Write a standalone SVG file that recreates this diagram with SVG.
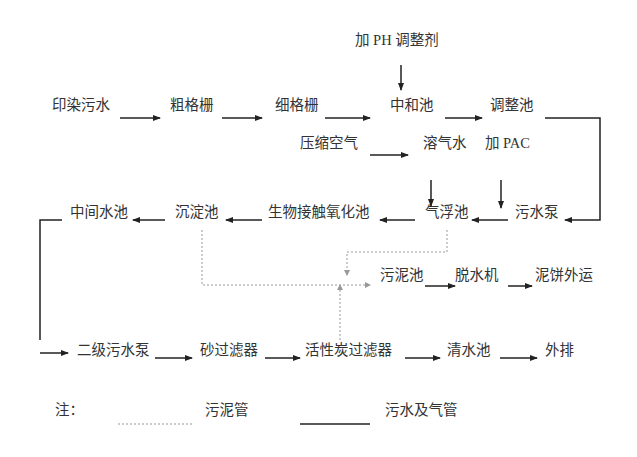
<svg xmlns="http://www.w3.org/2000/svg" width="637" height="457" viewBox="0 0 637 457">
<style>
text{font-family:"Liberation Serif","Noto Sans CJK SC",serif;font-size:14.5px;fill:#333}
.s{stroke:#222;stroke-width:1.5;fill:none}
.d{stroke:#999;stroke-width:1;stroke-dasharray:2,2;fill:none}
</style>
<defs>
<marker id="a" markerWidth="8" markerHeight="6" refX="7" refY="3" orient="auto" markerUnits="userSpaceOnUse"><path d="M0,0L8,3L0,6z" fill="#222"/></marker>
<marker id="g" markerWidth="6" markerHeight="6" refX="5" refY="3" orient="auto" markerUnits="userSpaceOnUse"><path d="M0,0L6,3L0,6z" fill="#999"/></marker>
</defs>
<rect width="637" height="457" fill="#fff"/>
<g id="n1"><text x="52" y="110">印染污水</text></g>
<g id="n2"><text x="170" y="110">粗格栅</text></g>
<g id="n3"><text x="275" y="110">细格栅</text></g>
<g id="n4"><text x="390" y="110">中和池</text></g>
<g id="n5"><text x="490" y="110">调整池</text></g>
<g id="n6"><text x="355" y="45">加 PH 调整剂</text></g>
<g id="n7"><text x="300" y="148">压缩空气</text></g>
<g id="n8"><text x="423" y="148">溶气水</text></g>
<g id="n9"><text x="485" y="148">加 PAC</text></g>
<g id="n10"><text x="70" y="217">中间水池</text></g>
<g id="n11"><text x="175" y="217">沉淀池</text></g>
<g id="n12"><text x="268" y="217">生物接触氧化池</text></g>
<g id="n13"><text x="425" y="217">气浮池</text></g>
<g id="n14"><text x="515" y="217">污水泵</text></g>
<g id="n15"><text x="380" y="280">污泥池</text></g>
<g id="n16"><text x="455" y="280">脱水机</text></g>
<g id="n17"><text x="535" y="280">泥饼外运</text></g>
<g id="n18"><text x="77" y="355">二级污水泵</text></g>
<g id="n19"><text x="200" y="355">砂过滤器</text></g>
<g id="n20"><text x="305" y="355">活性炭过滤器</text></g>
<g id="n21"><text x="447" y="355">清水池</text></g>
<g id="n22"><text x="545" y="355">外排</text></g>
<g id="legend"><text x="55" y="415">注：</text><line class="d" x1="118" y1="424" x2="192" y2="424"/><text x="205" y="415">污泥管</text><line class="s" x1="300" y1="424" x2="370" y2="424"/><text x="385" y="415">污水及气管</text></g>
<g id="connectors">
<line class="s" x1="120" y1="118" x2="160" y2="118" marker-end="url(#a)"/>
<line class="s" x1="222" y1="118" x2="262" y2="118" marker-end="url(#a)"/>
<line class="s" x1="325" y1="118" x2="370" y2="118" marker-end="url(#a)"/>
<line class="s" x1="445" y1="118" x2="482" y2="118" marker-end="url(#a)"/>
<line class="s" x1="401" y1="65" x2="401" y2="90" marker-end="url(#a)"/>
<line class="s" x1="370" y1="155" x2="408" y2="155" marker-end="url(#a)"/>
<line class="s" x1="431" y1="180" x2="431" y2="206" marker-end="url(#a)"/>
<line class="s" x1="501" y1="180" x2="501" y2="208" marker-end="url(#a)"/>
<polyline class="s" points="545,118 600,118 600,220 565,220" marker-end="url(#a)"/>
<line class="s" x1="508" y1="220" x2="472" y2="220" marker-end="url(#a)"/>
<line class="s" x1="415" y1="220" x2="380" y2="220" marker-end="url(#a)"/>
<line class="s" x1="262" y1="220" x2="226" y2="220" marker-end="url(#a)"/>
<line class="s" x1="165" y1="220" x2="133" y2="220" marker-end="url(#a)"/>
<polyline class="s" points="62,220 40,220 40,340"/>
<line class="s" x1="40" y1="353" x2="68" y2="353" marker-end="url(#a)"/>
<line class="s" x1="155" y1="358" x2="192" y2="358" marker-end="url(#a)"/>
<line class="s" x1="265" y1="358" x2="300" y2="358" marker-end="url(#a)"/>
<line class="s" x1="405" y1="358" x2="440" y2="358" marker-end="url(#a)"/>
<line class="s" x1="500" y1="358" x2="537" y2="358" marker-end="url(#a)"/>
<line class="s" x1="425" y1="286" x2="455" y2="286" marker-end="url(#a)"/>
<line class="s" x1="508" y1="286" x2="532" y2="286" marker-end="url(#a)"/>
<polyline class="d" points="202,230 202,285 370,285" marker-end="url(#g)"/>
<polyline class="d" points="447,230 447,252 347,252 347,275" marker-end="url(#g)"/>
<line class="d" x1="340" y1="340" x2="340" y2="285" marker-end="url(#g)"/>
</g>
</svg>
